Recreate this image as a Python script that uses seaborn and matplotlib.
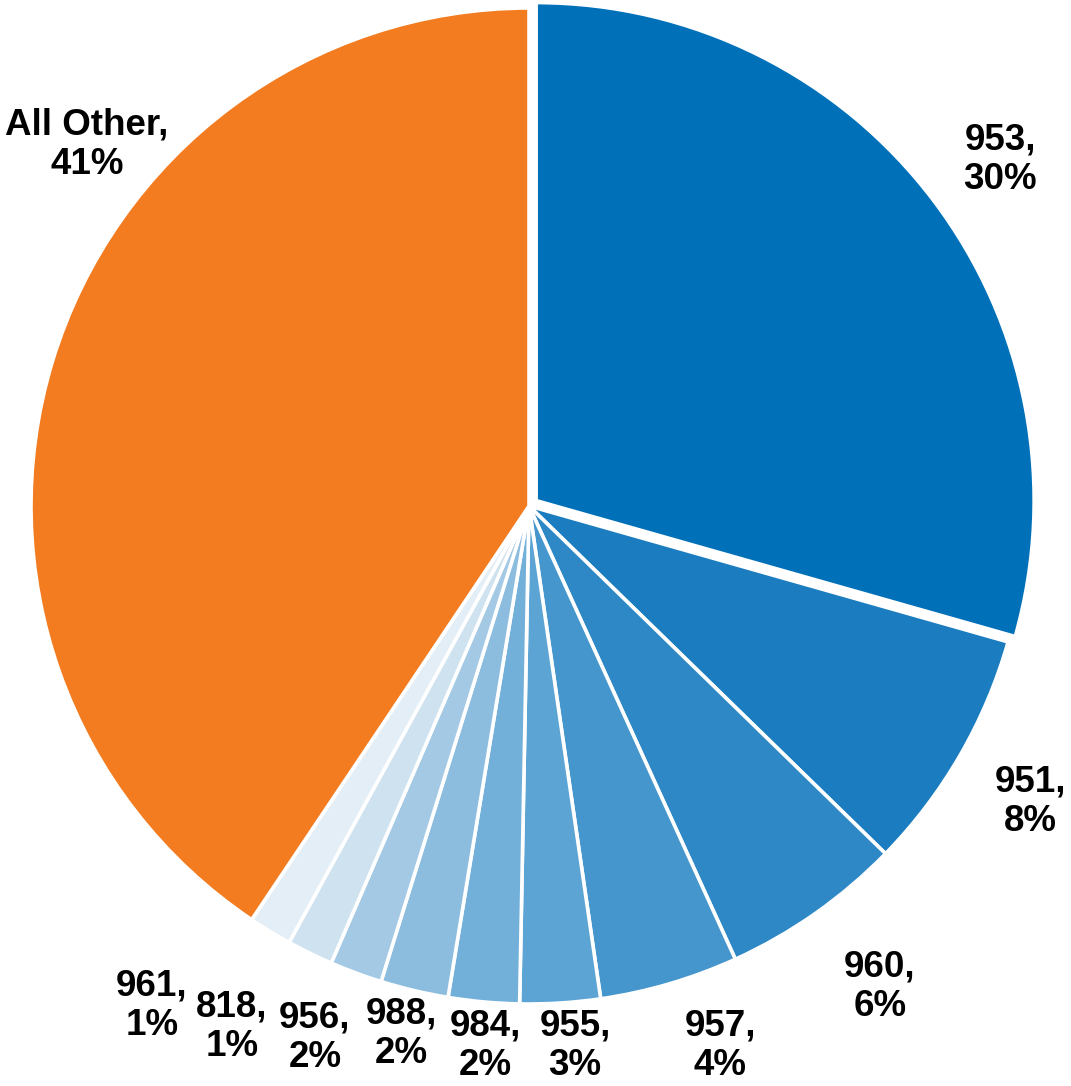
import matplotlib
matplotlib.use("Agg")
import matplotlib.pyplot as plt
import seaborn as sns
import numpy as np

categories = ["953", "951", "960", "957", "955", "984", "988", "956", "818", "961", "All Other"]
shares = [29.4, 7.9, 5.9, 4.5, 2.6, 2.3, 2.2, 1.7, 1.5, 1.4, 40.6]
pct_labels = ["30%", "8%", "6%", "4%", "3%", "2%", "2%", "2%", "1%", "1%", "41%"]
colors = ["#0070B9", "#1B7DC0", "#2E88C6", "#4496CD", "#5BA4D3", "#72B0DA",
          "#8CBDDF", "#A4C9E4", "#CFE2F0", "#E3EEF7", "#F37B20"]

sns.set_theme(style="white")
plt.rcParams['font.family'] = ['Liberation Sans', 'DejaVu Sans']

W, H = 1071, 1086
cx, cy, R = 529, 506, 498
fig = plt.figure(figsize=(W / 100, H / 100), dpi=100)
ax = fig.add_axes([0, 0, 1, 1])
ax.axis("off")

explode = [0.018] + [0] * (len(shares) - 1)
ax.pie(shares, colors=colors, startangle=90, counterclock=False, radius=1,
       explode=explode, wedgeprops=dict(edgecolor="white", linewidth=2.6))
ax.set_xlim(-cx / R, (W - cx) / R)
ax.set_ylim(-(H - cy) / R, cy / R)
ax.set_aspect("auto")

# label centres in pixel coordinates (x, y from top-left)
label_px = [(1000, 160), (1030, 802), (880, 987), (720, 1046), (575, 1046),
            (485, 1046), (401, 1034), (315, 1038), (232, 1027), (152, 1006), (87, 145)]
for cat, pct, (px, py) in zip(categories, pct_labels, label_px):
    x = (px - cx) / R
    y = (cy - py) / R
    ax.text(x, y, f"{cat},\n{pct}", ha="center", va="center", fontsize=26.5,
            fontweight="bold", color="black", linespacing=1.18)

fig.savefig("out.png", dpi=100)
